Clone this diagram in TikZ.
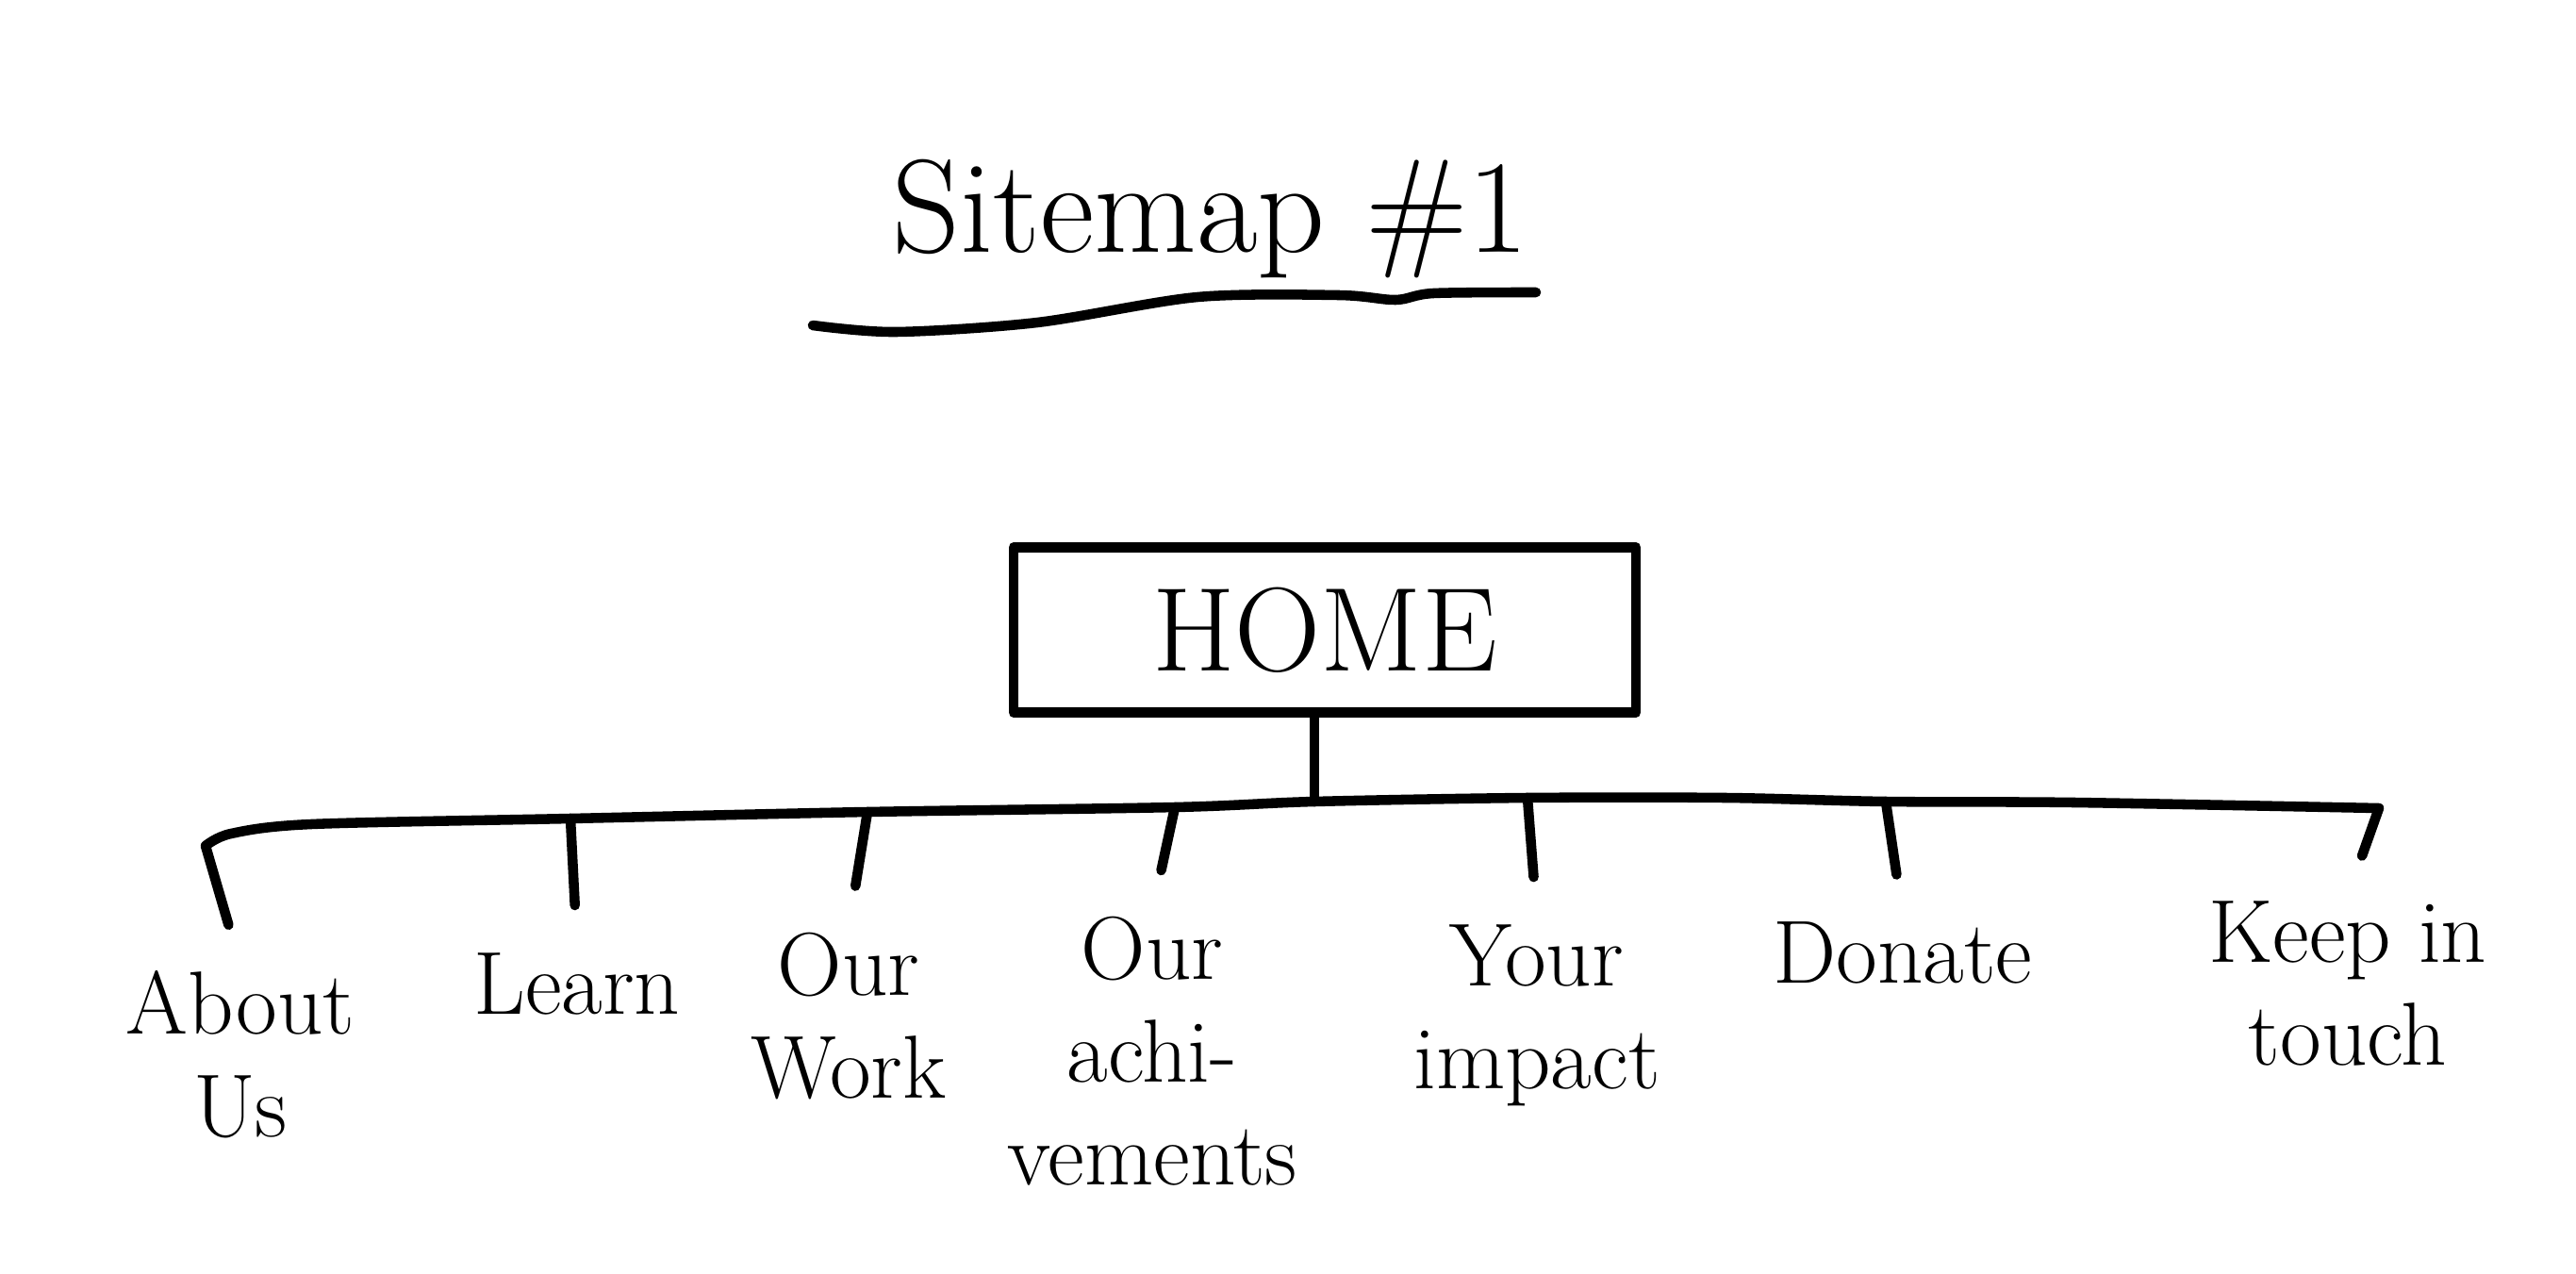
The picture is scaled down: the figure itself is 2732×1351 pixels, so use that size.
\documentclass[tikz,border=0pt]{standalone}
\begin{document}
\begin{tikzpicture}[x=0.01cm,y=-0.01cm,line width=3pt,line cap=round,line join=round,
  lbl/.style={font=\fontsize{27}{31}\selectfont,align=center,anchor=north,inner sep=0pt},
  drop/.style={draw=black,shorten >=0.45cm}]
\useasboundingbox (0,0) rectangle (2732,1351);
% title
\node[font=\fontsize{40}{48}\selectfont,inner sep=0pt] (title) at (1284,232) {Sitemap \#1};
\draw plot[smooth] coordinates {(862,345) (950,352) (1100,342) (1270,315) (1420,313) (1480,318) (1520,311) (1629,310)};
% home
\node[draw,minimum width=6.6cm,minimum height=1.75cm,font=\fontsize{36}{43}\selectfont] (home) at (1405,668) {HOME};
% junctions on the bus
\coordinate (ja) at (218,897);
\coordinate (jl) at (605,868);
\coordinate (jw) at (920,861);
\coordinate (jc) at (1246,856);
\coordinate (jh) at (1394,850);
\coordinate (ji) at (1620,846);
\coordinate (jd) at (2000,850);
\coordinate (jk) at (2523,857);
\draw plot[smooth] coordinates {(ja) (245,884) (330,874) (jl) (jw) (jc) (jh) (ji) (1830,846) (jd) (2200,851) (jk)};
\draw (home.south -| jh) -- (jh);
% labels
\node[lbl] (about) at (255,1024) {About\\Us};
\node[lbl] (learn) at (612,1005) {Learn};
\node[lbl] (work) at (900,984) {Our\\Work};
\node[lbl] (ach) at (1222,967) {Our\\achi-\\vements};
\node[lbl] (impact) at (1630,975) {Your\\impact};
\node[lbl] (donate) at (2018,972) {Donate};
\node[lbl] (touch) at (2490,950) {Keep in\\touch};
% drops
\draw[drop] (ja) -- (about.north);
\draw[drop] (jl) -- (learn.north);
\draw[drop] (jw) -- (work.north);
\draw[drop] (jc) -- (ach.north);
\draw[drop] (ji) -- (impact.north);
\draw[drop] (jd) -- (donate.north);
\draw[drop] (jk) -- (touch.north);
\end{tikzpicture}
\end{document}
